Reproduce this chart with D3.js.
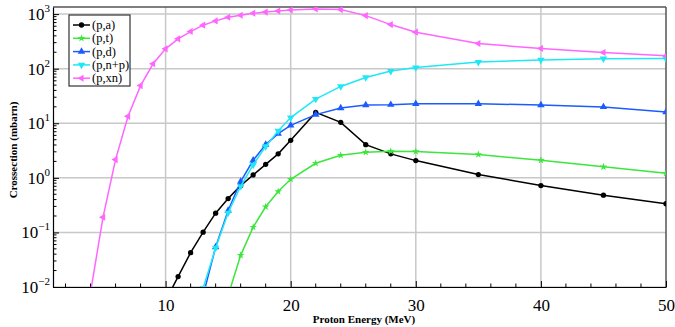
<!DOCTYPE html>
<html>
<head>
<meta charset="utf-8">
<script src="https://cdn.jsdelivr.net/npm/d3@7"></script>
<style>
body { margin: 0; background: #fff; }
</style>
</head>
<body>
<script>
// energies (MeV) and cross sections (mbarn)
var energyA = [10, 11, 12, 13, 14, 15, 16, 17, 18, 19, 20, 22, 24, 26, 28, 30, 35, 40, 45, 50];
var valuesA = [0.0056, 0.0155, 0.0426, 0.101, 0.225, 0.417, 0.72, 1.13, 1.77, 2.75, 4.87, 15.8, 10.4, 4.06, 2.75, 2.07, 1.15, 0.723, 0.481, 0.335];

var energyT = [15, 16, 17, 18, 19, 20, 22, 24, 26, 28, 30, 35, 40, 45, 50];
var valuesT = [0.007, 0.038, 0.125, 0.295, 0.562, 0.94, 1.85, 2.59, 2.94, 3.06, 3.03, 2.67, 2.10, 1.59, 1.21];

var energyD = [13, 14, 15, 16, 17, 18, 19, 20, 22, 24, 26, 28, 30, 35, 40, 45, 50];
var valuesD = [0.007, 0.054, 0.252, 0.855, 2.10, 4.06, 6.45, 9.16, 14.4, 19.0, 21.6, 21.9, 22.8, 22.8, 21.6, 19.9, 16.1];

var energyNP = [13, 14, 15, 16, 17, 18, 19, 20, 22, 24, 26, 28, 30, 35, 40, 45, 50];
var valuesNP = [0.0095, 0.052, 0.229, 0.70, 1.73, 3.78, 7.23, 12.7, 27.8, 47.3, 69, 90.4, 105, 132, 145, 152, 153];

var energyXN = [4, 5, 6, 7, 8, 9, 10, 11, 12, 13, 14, 15, 16, 17, 18, 19, 20, 22, 24, 26, 28, 30, 35, 40, 45, 50];
var valuesXN = [0.008, 0.19, 2.16, 13.4, 49, 123, 231, 352, 479, 627, 751, 878, 955, 1038, 1090, 1140, 1190, 1245, 1209, 939, 643, 467, 289, 234, 198, 172];

var seriesNames = ["(p,a)", "(p,t)", "(p,d)", "(p,n+p)", "(p,xn)"];
var xTicks = [10, 20, 30, 40, 50];
var yTickExp = [-2, -1, 0, 1, 2, 3];

var FONT = "Liberation Serif";

var series = [
  {name: seriesNames[0], x: energyA, y: valuesA, color: "#000000", symbol: d3.symbolCircle, size: 22, rot: 0},
  {name: seriesNames[1], x: energyT, y: valuesT, color: "#3ce63c", symbol: d3.symbolStar, size: 18, rot: 0},
  {name: seriesNames[2], x: energyD, y: valuesD, color: "#1a5cff", symbol: d3.symbolTriangle, size: 24, rot: 0},
  {name: seriesNames[3], x: energyNP, y: valuesNP, color: "#1ee8f5", symbol: d3.symbolTriangle, size: 24, rot: 180},
  {name: seriesNames[4], x: energyXN, y: valuesXN, color: "#ff66ff", symbol: d3.symbolTriangle, size: 22, rot: -90}
];

var margin = {top: 7, right: 9, bottom: 40, left: 53},
    width = 675 - margin.left - margin.right,
    height = 327 - margin.top - margin.bottom;

var svg = d3.select("body").append("svg")
  .attr("width", 675)
  .attr("height", 327);

var g = svg.append("g")
  .attr("transform", "translate(" + margin.left + "," + margin.top + ")");

var x = d3.scaleLinear().domain([1, 50]).range([0, width]);
var y = d3.scaleLog().domain([0.01, 1350]).range([height, 0]);

svg.append("defs").append("clipPath").attr("id", "clip")
  .append("rect").attr("width", width).attr("height", height);

// grid
g.selectAll(".vgrid").data(xTicks.slice(0, 4)).enter().append("line")
  .attr("x1", function(d) { return x(d); }).attr("x2", function(d) { return x(d); })
  .attr("y1", 0).attr("y2", height)
  .attr("stroke", "#c8c8c8").attr("stroke-width", 1.5);
g.selectAll(".hgrid").data(yTickExp).enter().append("line")
  .attr("x1", 0).attr("x2", width)
  .attr("y1", function(d) { return y(Math.pow(10, d)); })
  .attr("y2", function(d) { return y(Math.pow(10, d)); })
  .attr("stroke", "#c8c8c8").attr("stroke-width", 1.5);

// frame top/right
g.append("line").attr("x1", 0).attr("x2", width).attr("y1", 0).attr("y2", 0)
  .attr("stroke", "#555").attr("stroke-width", 1.5);
g.append("line").attr("x1", width).attr("x2", width).attr("y1", 0).attr("y2", height)
  .attr("stroke", "#555").attr("stroke-width", 1.5);

// x axis, ticks inside
var xMinor = d3.range(2, 50, 2).filter(function(d) { return d % 10 != 0; });
var xAxis = g.append("g").attr("transform", "translate(0," + height + ")")
  .call(d3.axisBottom(x).tickValues(xTicks).tickSizeInner(-6).tickSizeOuter(0).tickPadding(12));
xAxis.selectAll("text").attr("font-size", 17).attr("fill", "#000")
  .attr("font-family", FONT);
xAxis.select(".domain").attr("stroke-width", 1.2);
g.append("g").attr("transform", "translate(0," + height + ")")
  .selectAll("line").data(xMinor).enter().append("line")
  .attr("x1", function(d) { return x(d); }).attr("x2", function(d) { return x(d); })
  .attr("y1", 0).attr("y2", -3.5).attr("stroke", "#000");

// y axis, ticks inside
var yMinor = [];
yTickExp.forEach(function(e) {
  for (var k = 2; k <= 9; k++) {
    var v = k * Math.pow(10, e);
    if (v < 1350) yMinor.push(v);
  }
});
var yAxis = g.append("g")
  .call(d3.axisLeft(y).tickValues(yTickExp.map(function(e) { return Math.pow(10, e); }))
    .tickSizeInner(-6).tickSizeOuter(0).tickFormat(""));
yAxis.select(".domain").attr("stroke-width", 1.2);
g.append("g").selectAll("line").data(yMinor).enter().append("line")
  .attr("x1", 0).attr("x2", 3.5)
  .attr("y1", function(d) { return y(d); }).attr("y2", function(d) { return y(d); })
  .attr("stroke", "#000");

var ylab = g.append("g").selectAll("text").data(yTickExp).enter().append("text")
  .attr("x", -3)
  .attr("y", function(d) { return y(Math.pow(10, d)) + 6; })
  .attr("text-anchor", "end")
  .attr("font-family", FONT)
  .attr("font-size", 17);
ylab.append("tspan").text("10");
ylab.append("tspan").attr("dy", -8).attr("font-size", 11)
  .text(function(d) { return d < 0 ? "\u2212" + (-d) : d; });

// lines and markers
var line = d3.line()
  .x(function(d) { return x(d[0]); })
  .y(function(d) { return y(d[1]); });

var plot = g.append("g").attr("clip-path", "url(#clip)");
series.forEach(function(s) {
  var pts = s.x.map(function(v, i) { return [v, s.y[i]]; });
  plot.append("path").datum(pts)
    .attr("d", line).attr("fill", "none")
    .attr("stroke", s.color).attr("stroke-width", 1.5);
  plot.selectAll(null).data(pts).enter().append("path")
    .attr("d", d3.symbol().type(s.symbol).size(s.size))
    .attr("transform", function(d) {
      return "translate(" + x(d[0]) + "," + y(d[1]) + ") rotate(" + s.rot + ")";
    })
    .attr("fill", s.color);
});

// legend
var leg = svg.append("g").attr("transform", "translate(69,15)");
leg.append("rect").attr("width", 61).attr("height", 71)
  .attr("fill", "#fff").attr("stroke", "#333").attr("stroke-width", 1.2);
series.forEach(function(s, i) {
  var yy = 10 + i * 13.3;
  leg.append("line").attr("x1", 4).attr("x2", 21).attr("y1", yy).attr("y2", yy)
    .attr("stroke", s.color).attr("stroke-width", 1.5);
  leg.append("path").attr("d", d3.symbol().type(s.symbol).size(s.size))
    .attr("transform", "translate(12.5," + yy + ") rotate(" + s.rot + ")")
    .attr("fill", s.color);
  leg.append("text").attr("x", 23).attr("y", yy + 4).attr("font-size", 12.5)
    .attr("font-family", FONT)
    .text(s.name);
});

// axis titles
svg.append("text").attr("x", 364).attr("y", 323)
  .attr("text-anchor", "middle").attr("font-size", 11).attr("font-weight", "bold")
  .attr("font-family", FONT)
  .text("Proton Energy (MeV)");
svg.append("text")
  .attr("transform", "translate(17,150) rotate(-90)")
  .attr("text-anchor", "middle").attr("font-size", 11).attr("font-weight", "bold")
  .attr("font-family", FONT)
  .text("Crossection (mbarn)");
</script>
</body>
</html>
